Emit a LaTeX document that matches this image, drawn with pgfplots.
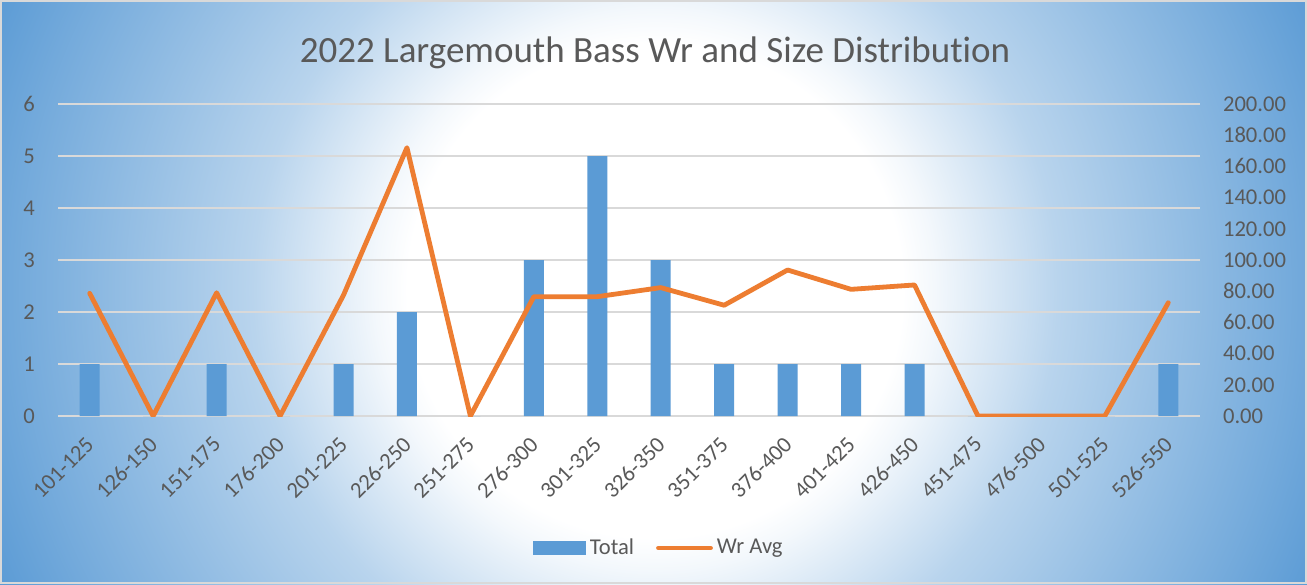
\documentclass[border=0pt]{standalone}
\usepackage{fontspec}
\setmainfont{Carlito}[Ligatures=NoCommon]
\usepackage{pgfplots}
\pgfplotsset{compat=1.18}
\definecolor{barblue}{HTML}{5B9BD5}
\definecolor{wrorange}{HTML}{ED7D31}
\definecolor{txtgray}{HTML}{595959}
\definecolor{gridgray}{HTML}{D9D9D9}
\definecolor{bgblue}{HTML}{5B9BD5}
\pgfdeclareradialshading{chartbg}{\pgfpoint{0bp}{0bp}}{%
  color(0bp)=(white); color(8.6bp)=(white); color(9.7bp)=(bgblue!7);
  color(14bp)=(bgblue!43); color(22bp)=(bgblue!84); color(25bp)=(bgblue);
  color(50bp)=(bgblue)}

\begin{document}
\begin{tikzpicture}
% 1 px of the reference = 0.5pt
\useasboundingbox (0,0) rectangle (653.5pt,-292pt);
\begin{scope}
  \clip (0,0) rectangle (653.5pt,-292pt);
  \shade[shading=chartbg] (327.5pt,-145pt) circle (360pt);
\end{scope}
\draw[gridgray, line width=1pt] (0.5pt,-0.5pt) rectangle (653pt,-291.5pt);

\node[anchor=base, text=txtgray, font=\fontsize{18.5}{22}\selectfont]
  at (327.5pt,-31pt) {2022 Largemouth Bass Wr and Size Distribution};

\pgfplotsset{
  every axis/.append style={
    scale only axis, width=571pt, height=156pt,
    at={(29pt,-208pt)}, anchor=south west,
    xmin=-0.5, xmax=17.5,
    major tick length=0pt,
    tick label style={text=txtgray, font=\fontsize{11.3}{13}\selectfont},
    /pgf/number format/assume math mode=true,
  },
}

\begin{axis}[
    ymin=0, ymax=6, ytick={0,...,6},
    axis x line*=bottom, axis y line*=left,
    x axis line style={draw=gridgray, line width=0.75pt, -},
    y axis line style={draw=none},
    ymajorgrids, grid style={gridgray, line width=0.75pt},
    xtick={0,...,17},
    xticklabels={101-125,126-150,151-175,176-200,201-225,226-250,251-275,276-300,301-325,326-350,351-375,376-400,401-425,426-450,451-475,476-500,501-525,526-550},
    x tick label style={xshift=2.6pt, yshift=-9.9pt, rotate=45, anchor=east},
    y tick label style={anchor=east, xshift=-8pt},
    ybar, bar width=10pt,
]
\addplot[fill=barblue, draw=none] coordinates {
  (0,1) (1,0) (2,1) (3,0) (4,1) (5,2) (6,0) (7,3) (8,5)
  (9,3) (10,1) (11,1) (12,1) (13,1) (14,0) (15,0) (16,0) (17,1)
};
\end{axis}

\begin{axis}[
    ymin=0, ymax=200, ytick={0,20,...,200},
    axis y line*=right, hide x axis,
    y axis line style={draw=none},
    yticklabel style={anchor=west, xshift=8pt,
      /pgf/number format/fixed, /pgf/number format/fixed zerofill,
      /pgf/number format/precision=2},
    legend style={at={(0.527,-0.423)}, anchor=center, draw=none, fill=none,
      legend columns=2, text=txtgray, font=\fontsize{11.3}{13}\selectfont,
      /tikz/every even column/.append style={column sep=9pt}},
]
\addlegendimage{legend image code/.code={\fill[barblue] (0pt,-3.2pt) rectangle (26pt,3.2pt);}}
\addlegendentry{Total}
\addplot[wrorange, line width=2.4pt, line join=round, line cap=round,
  legend image code/.code={\draw[wrorange, line width=2.4pt, line cap=round] (1pt,0pt) -- (27pt,0pt);}]
  coordinates {
  (0,78.6) (1,0) (2,79) (3,0) (4,77.5) (5,172) (6,0) (7,76.5) (8,76.5)
  (9,82.3) (10,71) (11,93.6) (12,81.2) (13,84) (14,0) (15,0) (16,0) (17,72.6)
};
\addlegendentry{Wr Avg}
\end{axis}
\end{tikzpicture}
\end{document}
